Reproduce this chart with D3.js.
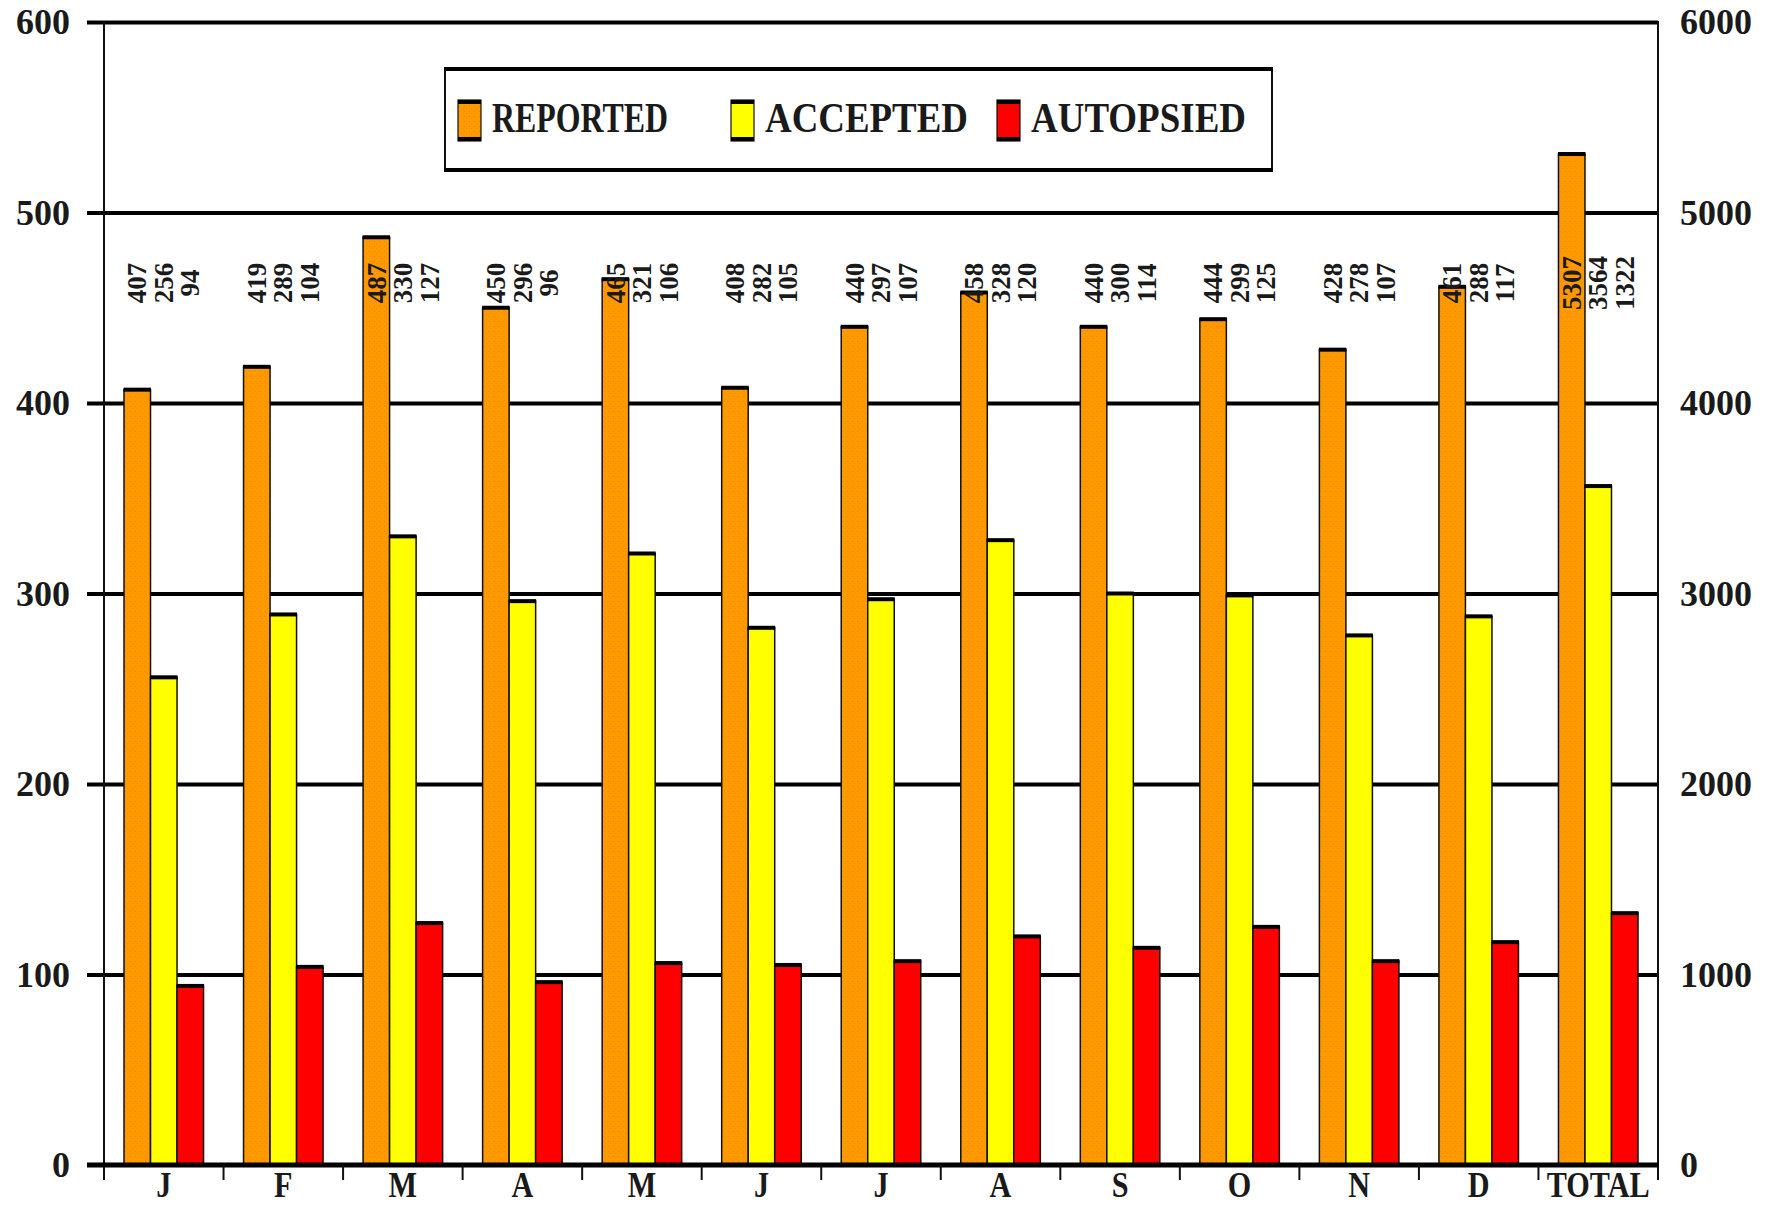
<!DOCTYPE html>
<html>
<head>
<meta charset="utf-8">
<script src="https://cdn.jsdelivr.net/npm/d3@7"></script>
<style>
  body { margin: 0; background: #fff; }
  svg { display: block; font-family: "Liberation Serif", "Times New Roman", serif; font-weight: bold; }
</style>
</head>
<body>
<div id="chart"></div>
<script>
// data
const categories = ["J", "F", "M", "A", "M", "J", "J", "A", "S", "O", "N", "D", "TOTAL"];
const seriesNames = ["REPORTED", "ACCEPTED", "AUTOPSIED"];
const reported = [407, 419, 487, 450, 465, 408, 440, 458, 440, 444, 428, 461];
const accepted = [256, 289, 330, 296, 321, 282, 297, 328, 300, 299, 278, 288];
const autopsied = [94, 104, 127, 96, 106, 105, 107, 120, 114, 125, 107, 117];
const totals = [5307, 3564, 1322];
const leftTicks = [0, 100, 200, 300, 400, 500, 600];
const rightTicks = [0, 1000, 2000, 3000, 4000, 5000, 6000];
const colors = ["url(#stipple)", "#ffff00", "#ff0000"];
const swatchColors = ["#ff9900", "#ffff00", "#ff0000"];

const W = 1778, H = 1206;
const plotLeft = 104, plotRight = 1658, plotTop = 22, plotBottom = 1165;
const serif = "'Liberation Serif', 'Times New Roman', serif";

const svg = d3.select("#chart").append("svg")
    .attr("width", W)
    .attr("height", H);

// orange bars have a faint dotted texture
const pat = svg.append("defs").append("pattern")
    .attr("id", "stipple")
    .attr("width", 5).attr("height", 5)
    .attr("patternUnits", "userSpaceOnUse");
pat.append("rect").attr("width", 5).attr("height", 5).attr("fill", "#ff9900");
pat.append("rect").attr("x", 1).attr("y", 1).attr("width", 1).attr("height", 1).attr("fill", "#ea8a00");
pat.append("rect").attr("x", 3).attr("y", 3).attr("width", 1).attr("height", 1).attr("fill", "#f29000");

const x = d3.scaleBand()
    .domain(d3.range(categories.length))
    .range([plotLeft, plotRight]);

const x1 = d3.scaleBand()
    .domain(d3.range(seriesNames.length))
    .range([20, x.bandwidth() - 20]);

const yLeft = d3.scaleLinear().domain([0, 600]).range([plotBottom, plotTop]);
const yRight = d3.scaleLinear().domain([0, 6000]).range([plotBottom, plotTop]);

// grid lines + left labels
const gLeft = svg.append("g")
    .attr("transform", `translate(87,0)`)
    .call(d3.axisLeft(yLeft).tickValues(leftTicks.slice(1)).tickSize(-(plotRight - 87)).tickPadding(17));
gLeft.attr("font-family", serif).attr("font-size", 36);
gLeft.select(".domain").remove();
gLeft.selectAll("line").attr("stroke", "#000").attr("stroke-width", 4);
gLeft.selectAll("text").attr("fill", "#1a1a1a");
// the zero label
svg.append("text")
    .attr("x", 70).attr("y", yLeft(0)).attr("dy", "0.32em")
    .attr("text-anchor", "end").attr("font-size", 36).attr("fill", "#1a1a1a")
    .text(0);

// right labels
const gRight = svg.append("g")
    .attr("transform", `translate(${plotRight},0)`)
    .call(d3.axisRight(yRight).tickValues(rightTicks).tickSize(0).tickPadding(22).tickFormat(d3.format("d")));
gRight.attr("font-family", serif).attr("font-size", 36);
gRight.select(".domain").remove();
gRight.selectAll("text").attr("fill", "#1a1a1a");

// rows: months on left scale, TOTAL on right scale
const rows = categories.map((c, i) => ({
    i: i,
    vals: i < 12 ? [reported[i], accepted[i], autopsied[i]] : totals,
    y: i < 12 ? yLeft : yRight
}));

const groups = svg.selectAll("g.grp")
    .data(rows)
    .enter()
    .append("g")
    .attr("class", "grp")
    .attr("transform", d => `translate(${x(d.i)},0)`);

const bars = groups.selectAll("g.bar")
    .data(d => d.vals.map((v, k) => ({ v: v, k: k, y: d.y })))
    .enter()
    .append("g")
    .attr("class", "bar");

bars.append("rect")
    .attr("x", d => x1(d.k))
    .attr("y", d => d.y(d.v))
    .attr("width", x1.bandwidth())
    .attr("height", d => plotBottom - d.y(d.v))
    .attr("fill", d => colors[d.k])
    .attr("stroke", "#111")
    .attr("stroke-width", 1.5);

// thick dark cap on top of each bar
bars.append("rect")
    .attr("x", d => x1(d.k) - 0.5)
    .attr("y", d => d.y(d.v) - 2)
    .attr("width", x1.bandwidth() + 1)
    .attr("height", 4)
    .attr("fill", "#000");

// vertical value labels
bars.append("text")
    .attr("transform", d => `translate(${x1(d.k) + x1.bandwidth() / 2},283) rotate(-90)`)
    .attr("text-anchor", "middle")
    .attr("dy", "0.34em")
    .attr("font-size", 27)
    .attr("fill", "#1a1a1a")
    .text(d => d.v);

// frame: side axes
svg.append("line").attr("x1", plotLeft).attr("x2", plotLeft).attr("y1", plotTop - 1).attr("y2", 1180)
    .attr("stroke", "#111").attr("stroke-width", 2);
svg.append("line").attr("x1", plotRight).attr("x2", plotRight).attr("y1", plotTop - 1).attr("y2", 1180)
    .attr("stroke", "#111").attr("stroke-width", 2);

// bottom axis
svg.append("line").attr("x1", 87).attr("x2", plotRight + 1).attr("y1", plotBottom).attr("y2", plotBottom)
    .attr("stroke", "#000").attr("stroke-width", 5);
svg.selectAll("line.sep")
    .data(d3.range(1, categories.length))
    .enter()
    .append("line")
    .attr("class", "sep")
    .attr("x1", d => x(d)).attr("x2", d => x(d))
    .attr("y1", plotBottom).attr("y2", 1180)
    .attr("stroke", "#111").attr("stroke-width", 2);

const gBottom = svg.append("g")
    .attr("transform", `translate(0,${plotBottom})`)
    .call(d3.axisBottom(x).tickSize(0).tickFormat(i => categories[i]));
gBottom.attr("font-family", serif).attr("font-size", 36);
gBottom.select(".domain").remove();
gBottom.selectAll("text")
    .attr("fill", "#1a1a1a")
    .attr("dy", null)
    .attr("y", 0)
    .attr("transform", "translate(0,32) scale(0.84,1)");

// legend
const legend = svg.append("g");
legend.append("rect")
    .attr("x", 445).attr("y", 69).attr("width", 827).attr("height", 101)
    .attr("fill", "#fff").attr("stroke", "#111").attr("stroke-width", 2);
legend.append("line").attr("x1", 444).attr("x2", 1273).attr("y1", 69).attr("y2", 69)
    .attr("stroke", "#000").attr("stroke-width", 4);
legend.append("line").attr("x1", 444).attr("x2", 1273).attr("y1", 170).attr("y2", 170)
    .attr("stroke", "#000").attr("stroke-width", 4);

const legendX = [458, 731, 997];
const legendTextWidth = [176, 203, 215];
const items = legend.selectAll("g.item")
    .data(seriesNames)
    .enter()
    .append("g")
    .attr("class", "item")
    .attr("transform", (d, k) => `translate(${legendX[k]},100)`);
items.append("rect")
    .attr("width", 23).attr("height", 41)
    .attr("fill", (d, k) => k === 0 ? "url(#stipple)" : swatchColors[k])
    .attr("stroke", "#111").attr("stroke-width", 1.2);
items.append("rect").attr("width", 23).attr("height", 4).attr("fill", "#000");
items.append("rect").attr("y", 37).attr("width", 23).attr("height", 4).attr("fill", "#000");
items.append("text")
    .attr("x", 34).attr("y", 32)
    .attr("font-size", 42)
    .attr("textLength", (d, k) => legendTextWidth[k])
    .attr("lengthAdjust", "spacingAndGlyphs")
    .attr("fill", "#1a1a1a")
    .text(d => d);
</script>
</body>
</html>
